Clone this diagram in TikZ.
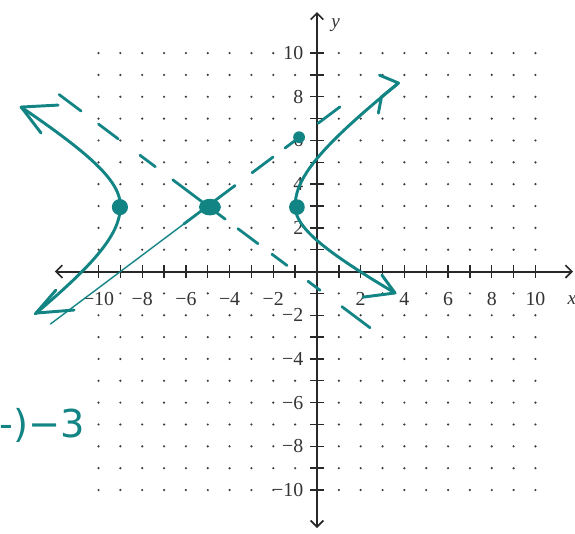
\documentclass[tikz,border=0pt]{standalone}
\usepackage{fontspec}
\setmainfont{Liberation Serif}
\newfontfamily\handfont{DejaVu Sans}
\usetikzlibrary{arrows.meta}
\definecolor{teal1}{RGB}{18,132,132}
\definecolor{dotc}{RGB}{60,60,60}
\definecolor{axc}{RGB}{40,40,40}
\tikzset{
  axisline/.style={line width=1.5pt,draw=axc,{Straight Barb[length=5pt,width=10pt,line width=1.3pt]}-{Straight Barb[length=5pt,width=10pt,line width=1.3pt]}},
  tickline/.style={line width=1.1pt,draw=axc},
  lab/.style={font=\fontsize{15.5}{17}\selectfont,text=black!80,inner sep=0pt},
  hyp/.style={draw=teal1,line width=2.3pt,line cap=round,line join=round},
  asy/.style={draw=teal1,line width=2.2pt,line cap=round},
  thinasy/.style={draw=teal1,line width=1.1pt,line cap=round},
  blob/.style={fill=teal1}
}
\begin{document}
\begin{tikzpicture}[x=0.6cm,y=0.6cm]
\useasboundingbox (-14.51,-12.01) rectangle (11.81,12.43);
% grid dots
\foreach \i in {-10,...,10}{
  \foreach \j in {-10,...,10}{
    \pgfmathtruncatemacro\skp{(\i==0)||(\j==0)||((\j==-1)&&(mod(abs(\i),2)==0))||((\i==-1)&&(mod(abs(\j),2)==0))}
    \ifnum\skp=0 \fill[dotc] (\i,\j) circle (0.95pt);\fi
  }
}
% axes
\coordinate (xl) at (-12.0,0);
\coordinate (xr) at (11.72,0);
\coordinate (yb) at (0,-11.74);
\coordinate (yt) at (0,11.88);
\draw[axisline] (xl) -- (xr);
\draw[axisline] (yb) -- (yt);
\foreach \k in {-10,...,-1,1,2,...,10}{
  \draw[tickline] (\k,-0.3) -- (\k,0.3);
  \draw[tickline] (-0.3,\k) -- (0.3,\k);
}
% labels
\foreach \k in {-10,-8,-6,-4,-2}{
  \node[lab] (xlab\k) at (\k,-1.25) {−\number-\k};
  \node[lab,anchor=east] (ylab\k) at (-0.62,\k) {−\number-\k};
}
\foreach \k in {2,4,6,8,10}{
  \node[lab] (xlab\k) at (\k,-1.25) {\k};
  \node[lab,anchor=east] (ylab\k) at (-0.62,\k) {\k};
}
\node[lab,font=\fontsize{15}{17}\selectfont\itshape] (xname) at (11.67,-1.3) {x};
\node[lab,font=\fontsize{15}{17}\selectfont\itshape] (yname) at (0.85,11.28) {y};
% asymptote with slope -3/4 (dashed by hand)
\foreach \a/\b in {-11.8/-10.8,-10.0/-9.1,-8.1/-7.4,-6.6/-4.2,-3.62/-2.7,-2.06/-1.37,-0.41/0.14,1.14/2.43}{
  \draw[asy] (\a,{3-0.75*(\a+5)}) -- (\b,{3-0.75*(\b+5)});
}
% asymptote with slope 3/4
\draw[thinasy] (-12.2,{3+0.75*(-7.2)}) -- (-5,3);
\foreach \a/\b in {-6.1/-3.75,-2.97/-2.01,-1.46/-0.95,0.05/1.05}{
  \draw[asy] (\a,{3+0.75*(\a+5)}) -- (\b,{3+0.75*(\b+5)});
}
% hyperbola left branch
\draw[hyp] plot[domain=-1.302:1.393,samples=60,variable=\t] ({-5-4*cosh(\t)},{3+((\t>0)*2.4+(\t<=0)*2.9)*sinh(\t)});
\coordinate (lu) at (-13.54,7.53);
\coordinate (ll) at (-12.86,-1.90);
\draw[hyp] ([shift={(1.69,0.09)}]lu) -- (lu) -- ([shift={(0.91,-1.19)}]lu);
\draw[hyp] ([shift={(0.91,1.05)}]ll) -- (ll) -- ([shift={(1.74,0.14)}]ll);
% hyperbola right branch
\draw[hyp] plot[domain=-1.396:1.415,samples=60,variable=\t] ({-5+4*cosh(\t)},{3+((\t>0)*2.9+(\t<=0)*2.1)*sinh(\t)});
\coordinate (ru) at (3.73,8.63);
\coordinate (rl) at (3.57,-0.98);
\draw[hyp] ([shift={(-0.87,0.36)}]ru) -- (ru) -- ([shift={(-0.78,-0.64)}]ru) -- ([shift={(-0.92,-1.38)}]ru);
\draw[hyp] ([shift={(-1.46,-0.19)}]rl) -- (rl) -- ([shift={(-0.6,0.82)}]rl);
% points
\fill[blob] (-9.02,2.95) circle (0.37);
\fill[blob] (-4.9,2.95) ellipse (0.5 and 0.38);
\fill[blob] (-0.92,2.95) circle (0.36);
\fill[blob] (-0.82,6.15) circle (0.27);
% handwritten fragment
\node[text=teal1,font=\handfont\fontsize{30}{32}\selectfont,anchor=east,inner sep=0pt] (frag) at (-10.62,-7.05) {-)−3};
\end{tikzpicture}
\end{document}
